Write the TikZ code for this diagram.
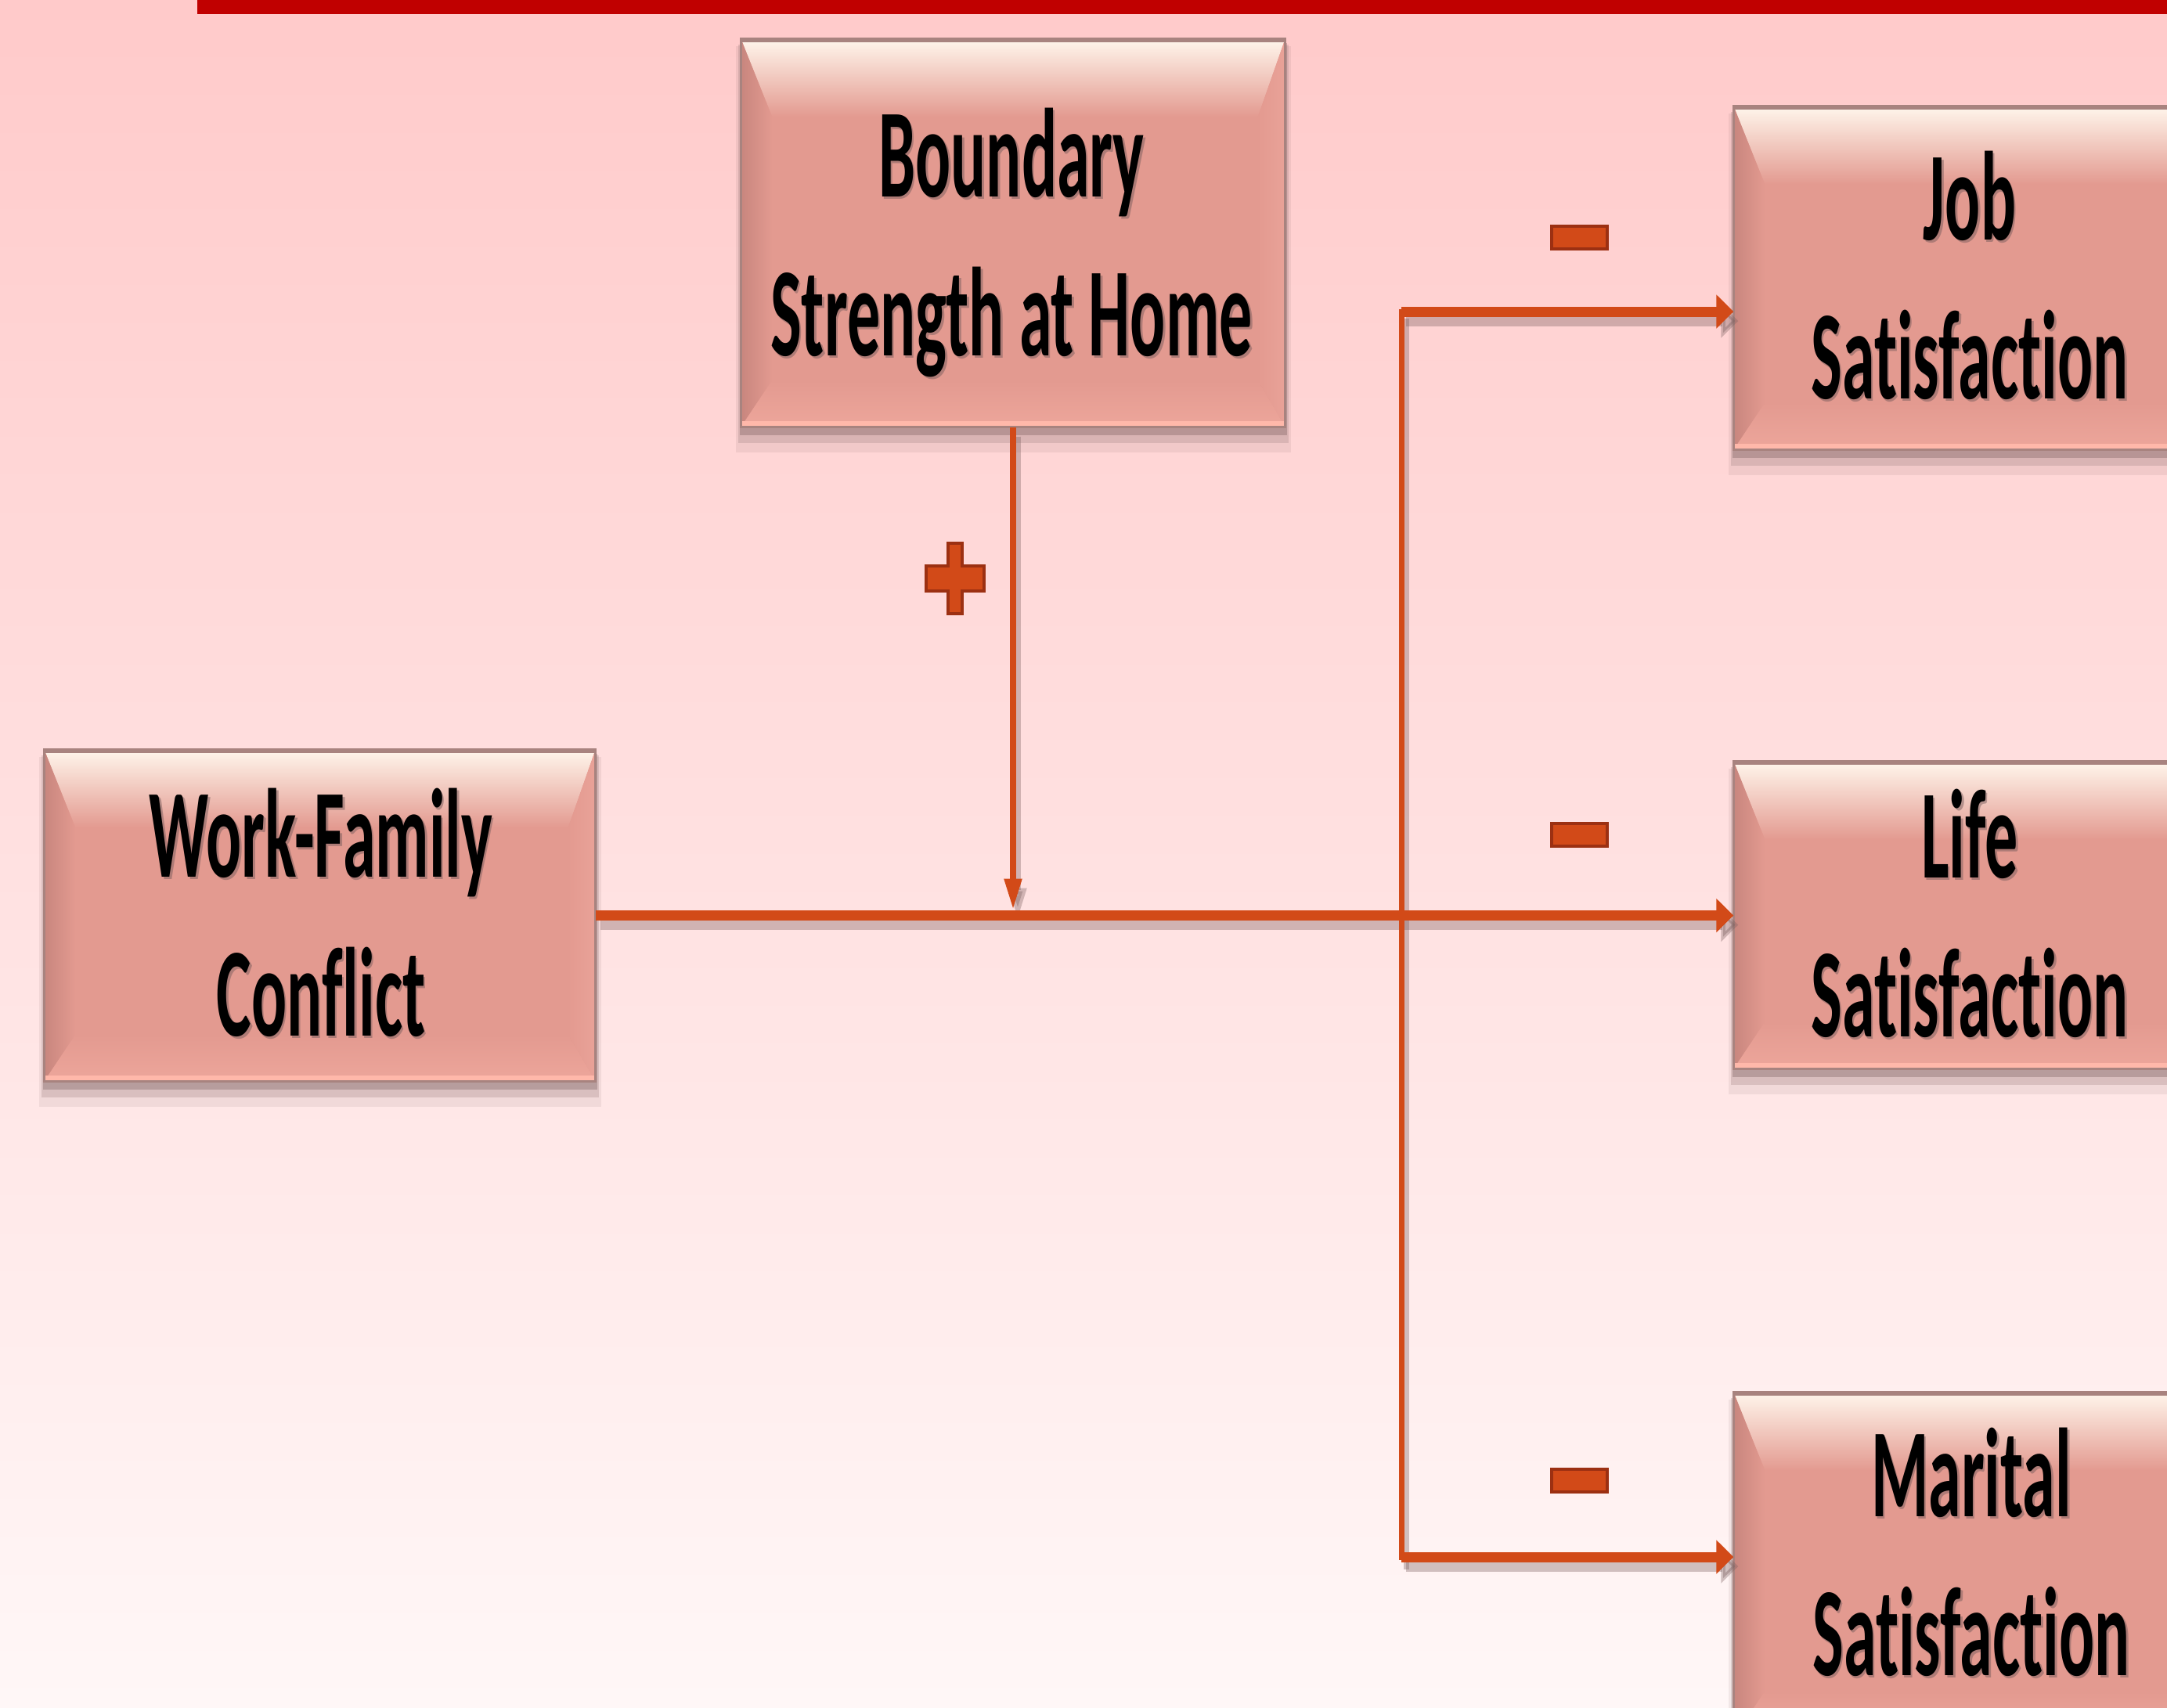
\documentclass[tikz,border=0pt]{standalone}
\usepackage{fontspec}
\setmainfont{Carlito}[Ligatures={NoCommon,NoRare,NoDiscretionary}]
\usepackage{graphicx}
\usetikzlibrary{calc,arrows.meta}
\definecolor{boxfill}{HTML}{E39A90}
\definecolor{boxdark}{HTML}{C8867E}
\definecolor{boxcream}{HTML}{FFF6EC}
\definecolor{boxmid}{HTML}{F8B6AA}
\definecolor{boxlite}{HTML}{FFB8AA}
\definecolor{boxbot}{HTML}{EDA69B}
\definecolor{boxright}{HTML}{E9A298}
\definecolor{boxedge}{HTML}{A8837F}
\definecolor{linec}{HTML}{D24A18}
\definecolor{signedge}{HTML}{9C3012}
\definecolor{shadowc}{HTML}{7A5E5E}
\definecolor{barred}{HTML}{C00000}
\definecolor{bgtop}{HTML}{FFCACA}
\definecolor{bgmid}{HTML}{FFDADA}
\definecolor{bgbot}{HTML}{FFF7F7}
\newcommand\sqz[1]{\scalebox{0.52}[1]{\strut #1}}
\newcommand\bevel[1]{%
  \fill[shadowc,opacity=0.35] ($(#1.north west)+(-0.01,-0.06)$) rectangle ($(#1.south east)+(0.02,-0.10)$);
  \fill[shadowc,opacity=0.2] ($(#1.north west)+(-0.03,-0.08)$) rectangle ($(#1.south east)+(0.04,-0.20)$);
  \fill[shadowc,opacity=0.1] ($(#1.north west)+(-0.06,-0.10)$) rectangle ($(#1.south east)+(0.07,-0.32)$);
  \fill[boxfill] (#1.north west) rectangle (#1.south east);
  \shade[top color=boxcream, middle color=boxmid, bottom color=boxfill] (#1.north west) -- (#1.north east) -- ($(#1.north east)+(-0.35,-1.0)$) -- ($(#1.north west)+(0.4,-1.0)$) -- cycle;
  \shade[left color=boxdark, right color=boxfill] (#1.north west) -- ($(#1.north west)+(0.4,-1.0)$) -- ($(#1.south west)+(0.4,0.6)$) -- (#1.south west) -- cycle;
  \shade[left color=boxfill, right color=boxright] (#1.north east) -- ($(#1.north east)+(-0.35,-1.0)$) -- ($(#1.south east)+(-0.35,0.6)$) -- (#1.south east) -- cycle;
  \shade[top color=boxfill, bottom color=boxbot] ($(#1.south west)+(0.4,0.6)$) -- ($(#1.south east)+(-0.35,0.6)$) -- (#1.south east) -- (#1.south west) -- cycle;
  \fill[boxlite] ($(#1.south west)+(0,0.08)$) rectangle (#1.south east);
  \draw[boxedge, line width=0.035cm] (#1.north west) rectangle (#1.south east);
  \draw[boxedge, line width=0.06cm] ($(#1.north west)+(0,-0.02)$) -- ($(#1.north east)+(0,-0.02)$);
}
\newcommand\boxlabel[4]{%
  \node[lbl, text=shadowc, text opacity=0.5] (#1s) at ($(#2,#3)+(0.025,-0.03)$) {#4};
  \node[lbl] (#1) at (#2,#3) {#4};}
\tikzset{
  boxnode/.style={rectangle, inner sep=0pt, draw=none},
  lbl/.style={align=center, inner sep=0pt, font=\fontsize{46pt}{57.8pt}\selectfont\bfseries},
  mainln/.style={linec, line width=0.13cm},
  thinln/.style={linec, line width=0.08cm},
  trunkln/.style={linec, line width=0.07cm},
  shd/.style={shadowc, opacity=0.35, transform canvas={shift={(0.06,-0.12)}}},
  harr/.style={-{Triangle[length=0.22cm,width=0.42cm]}},
  varr/.style={-{Triangle[length=0.40cm,width=0.21cm]}},
  sign/.style={fill=linec, draw=signedge, line width=0.04cm},
}
\begin{document}
\begin{tikzpicture}
\useasboundingbox (0,0) rectangle (27.68,-21.81);
\clip (0,0) rectangle (27.68,-21.81);
\shade[top color=bgtop, middle color=bgmid, bottom color=bgbot] (0,0) rectangle (27.68,-21.81);
\fill[barred] (2.52,0) rectangle (27.68,-0.18);

% boxes
\node[boxnode, minimum width=6.94cm, minimum height=4.95cm] (bd) at (12.94,-2.975) {};
\node[boxnode, minimum width=7.03cm, minimum height=4.23cm] (wfc) at (4.085,-11.695) {};
\node[boxnode, minimum width=6.03cm, minimum height=4.38cm] (job) at (25.165,-3.55) {};
\node[boxnode, minimum width=6.03cm, minimum height=3.92cm] (life) at (25.165,-11.69) {};
\node[boxnode, minimum width=6.03cm, minimum height=4.41cm] (mar) at (25.165,-19.995) {};
\bevel{bd}
\bevel{wfc}
\bevel{job}
\bevel{life}
\bevel{mar}

% connector coordinates
\coordinate (tj) at (17.90,-3.98);
\coordinate (tm) at (17.90,-19.89);
\coordinate (bdin) at ($(bd.south |- wfc.east)+(0,0.07)$);

% shadows of connectors
\draw[shd, line width=0.13cm, harr] (wfc.east) -- (life.west |- wfc.east);
\draw[shd, line width=0.08cm, varr] (bd.south) -- (bdin);
\draw[shd, line width=0.13cm, harr] (tj) -- (tj -| job.west);
\draw[shd, line width=0.13cm, harr] (tm) -- (tm -| mar.west);
\draw[shd, line width=0.07cm, line cap=rect] (tj) -- (tm);

% connectors
\draw[mainln, harr] (wfc.east) -- (life.west |- wfc.east);
\draw[thinln, varr] (bd.south) -- (bdin);
\draw[mainln, harr] (tj) -- (tj -| job.west);
\draw[mainln, harr] (tm) -- (tm -| mar.west);
\draw[trunkln, line cap=rect] (tj) -- (tm);

% signs
\draw[sign] (12.11,-6.94) -- (12.29,-6.94) -- (12.29,-7.23) -- (12.57,-7.23) -- (12.57,-7.55) -- (12.29,-7.55) -- (12.29,-7.84) -- (12.11,-7.84) -- (12.11,-7.55) -- (11.83,-7.55) -- (11.83,-7.23) -- (12.11,-7.23) -- cycle;
\node[sign, minimum width=0.71cm, minimum height=0.29cm, inner sep=0pt] (mj) at (20.17,-3.03) {};
\node[sign, minimum width=0.71cm, minimum height=0.29cm, inner sep=0pt] (ml) at (20.17,-10.66) {};
\node[sign, minimum width=0.71cm, minimum height=0.29cm, inner sep=0pt] (mm) at (20.17,-18.91) {};

% labels
\boxlabel{bdt}{12.92}{-3.12}{\sqz{Boundary}\\\sqz{Strength at Home}}
\boxlabel{wfct}{4.10}{-11.81}{\sqz{Work-Family}\\\sqz{Conflict}}
\boxlabel{jobt}{25.16}{-3.67}{\sqz{Job}\\\sqz{Satisfaction}}
\boxlabel{lifet}{25.16}{-11.82}{\sqz{Life}\\\sqz{Satisfaction}}
\boxlabel{mart}{25.18}{-19.98}{\sqz{Marital}\\\sqz{Satisfaction}}
\end{tikzpicture}
\end{document}
